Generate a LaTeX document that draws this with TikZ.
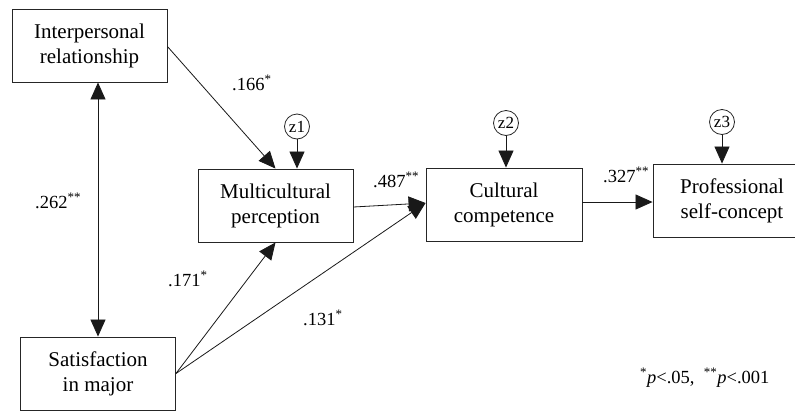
\documentclass[tikz,border=0pt]{standalone}
\usepackage{fontspec}
\setmainfont{Liberation Serif}
\usetikzlibrary{arrows.meta}
\tikzset{
  box/.style={draw=black!85, line width=0.9pt, minimum width=155pt, minimum height=73pt,
    align=center, inner sep=0pt, font=\fontsize{21}{25}\selectfont},
  err/.style={draw=black!85, line width=0.8pt, circle, minimum size=25pt, inner sep=0pt,
    font=\fontsize{17}{17}\selectfont},
  path/.style={draw=black!90, line width=0.8pt, -{Triangle[length=17pt,width=15pt]}},
  dpath/.style={draw=black!90, line width=0.8pt, {Triangle[length=17pt,width=15pt]}-{Triangle[length=17pt,width=15pt]}},
  lab/.style={anchor=base west, inner sep=0pt, font=\fontsize{18.5}{18.5}\selectfont}
}
\begin{document}
\begin{tikzpicture}[x=1pt,y=-1pt]
\useasboundingbox (0,0) rectangle (795,413);
\clip (0,0) rectangle (795,413);
\fill[white] (0,0) rectangle (795,413);
\node[box] (ip) at (89.5,45.5) {Interpersonal\\relationship};
\node[box] (sm) at (98,373.5) {Satisfaction\\in\ major};
\node[box] (mp) at (275.5,205.5) {Multicultural\\perception};
\node[box, minimum width=156pt] (cc) at (504,204.5) {Cultural\\competence};
\node[box, minimum width=158pt] (ps) at (732,200.5) {Professional\\self-concept};
\node[err] (z1) at (297,126.5) {z1};
\node[err] (z2) at (506,123) {z2};
\node[err] (z3) at (722,122) {z3};
\draw[path] ([yshift=-1pt]ip.east) -- (mp.north);
\draw[path] (z1) -- (z1 |- mp.north);
\draw[path] (z2) -- (z2 |- cc.north);
\draw[path] (z3) -- (z3 |- ps.north);
\draw[dpath] (sm.north |- ip.south) -- (sm.north);
\draw[path] (sm.east) -- (mp.south);
\draw[path] (sm.east) -- ([yshift=1.5pt]cc.west);
\draw[path] ([yshift=-1.5pt]mp.east) -- ([yshift=1.5pt]cc.west);
\coordinate (ccout) at ([yshift=2.5pt]cc.east);
\draw[path] (ccout) -- (ccout -| ps.west);
\node[lab] (l1) at (232,90) {.166\textsuperscript{*}};
\node[lab] (l2) at (35,208) {.262\textsuperscript{**}};
\node[lab] (l3) at (168,286) {.171\textsuperscript{*}};
\node[lab] (l4) at (303,325) {.131\textsuperscript{*}};
\node[lab] (l5) at (373,187) {.487\textsuperscript{**}};
\node[lab] (l6) at (603,182) {.327\textsuperscript{**}};
\node[lab] (note) at (640,383) {\textsuperscript{*}\textit{p}<.05,\ \ \textsuperscript{**}\textit{p}<.001};
\end{tikzpicture}
\end{document}
